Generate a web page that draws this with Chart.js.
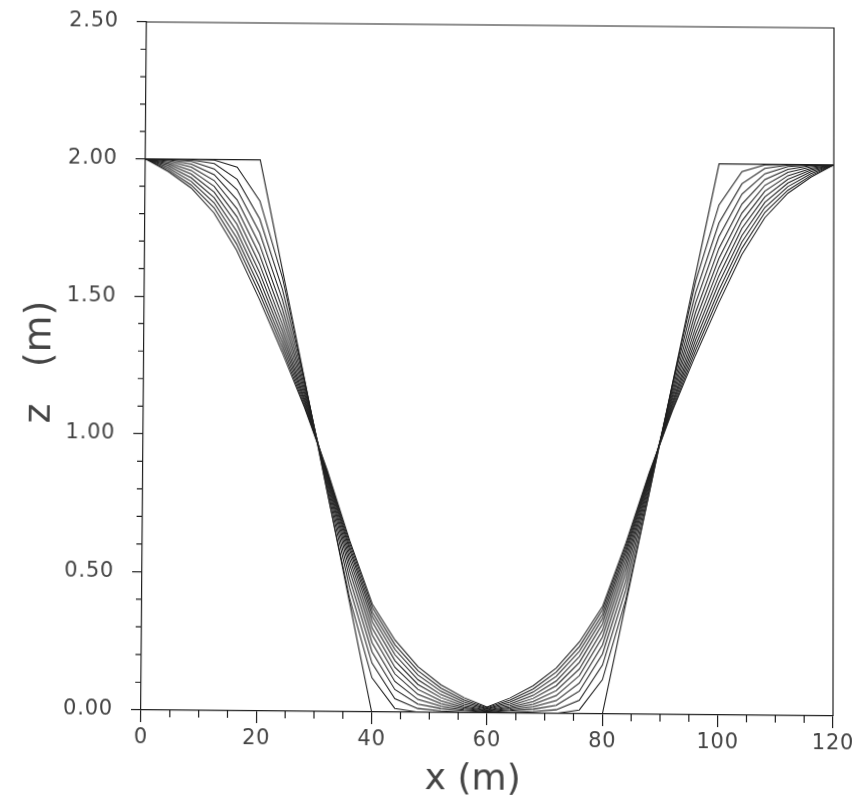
<!DOCTYPE html>
<html>
<head>
<meta charset="utf-8">
<script src="https://cdn.jsdelivr.net/npm/chart.js@4.4.1/dist/chart.umd.min.js"></script>
<style>
  html, body { margin: 0; padding: 0; background: #ffffff; overflow: hidden; }
  #wrap { width: 854px; height: 804px; }
  /* the scanned original is slightly distorted: right side ~6 px lower, top-left ~6 px to the right */
  #c { display: block; transform-origin: 141px 710px;
       transform: matrix3d(1, 0.008727, 0, 0, -0.008285, 1.00683, 0, -0.00000987, 0, 0, 1, 0, 0, 0, 0, 1); }
</style>
</head>
<body>
<div id="wrap"><canvas id="c" width="854" height="804"></canvas></div>
<script>
// ---- data ----
const xTickLabels = ['0', '20', '40', '60', '80', '100', '120'];
const yTickLabels = ['0.00', '0.50', '1.00', '1.50', '2.00', '2.50'];
const xMinorTicks = [5, 10, 15, 25, 30, 35, 45, 50, 55, 65, 70, 75, 85, 90, 95, 105, 110, 115];
const yMinorTicks = [0.1, 0.2, 0.3, 0.4, 0.6, 0.7, 0.8, 0.9, 1.1, 1.2, 1.3, 1.4, 1.6, 1.7, 1.8, 1.9, 2.1, 2.2, 2.3, 2.4];

// initial trapezoidal profile
const initialX = [0, 20, 40, 80, 100, 120];
const initialZ = [2.0, 2.0, 0.0, 0.0, 2.0, 2.0];

// nodes of the smoothed profiles
const nodeX = [0, 4, 8, 12, 16, 20, 24, 28, 32, 36, 40, 44, 48, 52, 56, 60,
               64, 68, 72, 76, 80, 84, 88, 92, 96, 100, 104, 108, 112, 116, 120];

const profile1  = [2.000,2.000,2.000,1.998,1.972,1.850,1.572,1.198,0.800,0.414,0.124,0.014,0.001,0.000,0.000,0.000,0.000,0.000,0.001,0.014,0.124,0.414,0.800,1.198,1.572,1.850,1.972,1.998,2.000,2.000,2.000];
const profile2  = [2.000,2.000,1.998,1.985,1.928,1.784,1.530,1.192,0.815,0.450,0.177,0.049,0.014,0.006,0.003,0.001,0.003,0.006,0.014,0.049,0.177,0.450,0.815,1.192,1.530,1.784,1.928,1.985,1.998,2.000,2.000];
const profile3  = [2.000,1.998,1.992,1.965,1.890,1.734,1.493,1.179,0.826,0.482,0.217,0.082,0.030,0.015,0.008,0.003,0.008,0.015,0.030,0.082,0.217,0.482,0.826,1.179,1.493,1.734,1.890,1.965,1.992,1.998,2.000];
const profile4  = [2.000,1.996,1.982,1.944,1.854,1.691,1.459,1.166,0.836,0.510,0.250,0.111,0.047,0.024,0.012,0.005,0.012,0.024,0.047,0.111,0.250,0.510,0.836,1.166,1.459,1.691,1.854,1.944,1.982,1.996,2.000];
const profile5  = [2.000,1.991,1.971,1.923,1.821,1.654,1.430,1.154,0.844,0.533,0.279,0.138,0.065,0.033,0.016,0.007,0.016,0.033,0.065,0.138,0.279,0.533,0.844,1.154,1.430,1.654,1.821,1.923,1.971,1.991,2.000];
const profile6  = [2.000,1.986,1.959,1.902,1.792,1.621,1.403,1.143,0.851,0.553,0.303,0.162,0.083,0.043,0.021,0.009,0.021,0.043,0.083,0.162,0.303,0.553,0.851,1.143,1.403,1.621,1.792,1.902,1.959,1.986,2.000];
const profile7  = [2.000,1.980,1.946,1.881,1.765,1.591,1.380,1.132,0.858,0.570,0.326,0.186,0.101,0.054,0.026,0.011,0.026,0.054,0.101,0.186,0.326,0.570,0.858,1.132,1.380,1.591,1.765,1.881,1.946,1.980,2.000];
const profile8  = [2.000,1.974,1.932,1.861,1.739,1.564,1.358,1.123,0.862,0.586,0.345,0.207,0.118,0.065,0.033,0.014,0.033,0.065,0.118,0.207,0.345,0.586,0.862,1.123,1.358,1.564,1.739,1.861,1.932,1.974,2.000];
const profile9  = [2.000,1.967,1.919,1.842,1.715,1.538,1.338,1.114,0.867,0.598,0.361,0.226,0.135,0.077,0.040,0.016,0.040,0.077,0.135,0.226,0.361,0.598,0.867,1.114,1.338,1.538,1.715,1.842,1.919,1.967,2.000];
const profile10 = [2.000,1.960,1.906,1.824,1.692,1.515,1.320,1.106,0.871,0.610,0.377,0.243,0.150,0.088,0.047,0.019,0.047,0.088,0.150,0.243,0.377,0.610,0.871,1.106,1.320,1.515,1.692,1.824,1.906,1.960,2.000];
const profile11 = [2.000,1.954,1.895,1.805,1.670,1.493,1.303,1.100,0.875,0.620,0.390,0.260,0.165,0.100,0.055,0.022,0.055,0.100,0.165,0.260,0.390,0.620,0.875,1.100,1.303,1.493,1.670,1.805,1.895,1.954,2.000];

const profiles = [profile1, profile2, profile3, profile4, profile5, profile6,
                  profile7, profile8, profile9, profile10, profile11];

const xTitle = 'x (m)';
const yTitle = 'z   (m)';

// ---- chart ----
const INK = '#202020';
const TEXT = '#444444';
const FONT = 'DejaVu Sans';

const datasets = [{
  data: initialX.map((x, i) => ({ x: x, y: initialZ[i] })),
  borderColor: INK, borderWidth: 1.1, pointRadius: 0, tension: 0, fill: false
}].concat(profiles.map(p => ({
  data: nodeX.map((x, i) => ({ x: x, y: p[i] })),
  borderColor: INK, borderWidth: 1.05, pointRadius: 0, tension: 0, fill: false
})));

const spacingPlugin = {
  id: 'spacing',
  beforeDraw(chart) { chart.ctx.letterSpacing = '0.8px'; }
};

const framePlugin = {
  id: 'frame',
  afterDraw(chart) {
    const ctx = chart.ctx;
    const a = chart.chartArea;
    const xs = chart.scales.x, ys = chart.scales.y;
    ctx.save();
    ctx.letterSpacing = '0px';
    ctx.strokeStyle = INK;
    ctx.lineWidth = 1.2;
    ctx.beginPath();
    // box: top and right edges
    ctx.moveTo(a.left, a.top); ctx.lineTo(a.right, a.top); ctx.lineTo(a.right, a.bottom);
    // minor ticks
    yMinorTicks.forEach(v => { const p = ys.getPixelForValue(v); ctx.moveTo(a.left - 6, p); ctx.lineTo(a.left, p); });
    xMinorTicks.forEach(v => { const p = xs.getPixelForValue(v); ctx.moveTo(p, a.bottom); ctx.lineTo(p, a.bottom + 7); });
    ctx.stroke();
    // axis titles
    ctx.fillStyle = TEXT;
    ctx.textAlign = 'center';
    ctx.textBaseline = 'middle';
    ctx.font = '36px "' + FONT + '"';
    ctx.fillText(xTitle, 473, 777);
    ctx.font = '38px "' + FONT + '"';
    ctx.translate(37, (a.top + a.bottom) / 2 - 2);
    ctx.rotate(-Math.PI / 2);
    ctx.fillText(yTitle, 0, 0);
    ctx.restore();
  }
};

const noEdgePadding = s => { s.paddingTop = 0; s.paddingBottom = 0; s.paddingLeft = 0; s.paddingRight = 0; };

new Chart(document.getElementById('c'), {
  type: 'line',
  data: { datasets: datasets },
  options: {
    responsive: false,
    animation: false,
    events: [],
    layout: { padding: { top: 22, right: 21, left: 0, bottom: 0 } },
    plugins: { legend: { display: false }, title: { display: false }, tooltip: { enabled: false } },
    scales: {
      x: {
        type: 'linear', min: 0, max: 120,
        afterFit: s => { s.height = 94; noEdgePadding(s); },
        ticks: {
          stepSize: 20, maxRotation: 0, padding: 3, color: TEXT,
          font: { family: FONT, size: 21 },
          callback: (v) => xTickLabels[Math.round(v / 20)]
        },
        grid: { drawOnChartArea: false, drawTicks: true, tickLength: 12, color: INK, lineWidth: 1.2 },
        border: { display: true, color: INK, width: 1.2 }
      },
      y: {
        type: 'linear', min: 0, max: 2.5,
        afterFit: s => { s.width = 141; noEdgePadding(s); },
        ticks: {
          stepSize: 0.5, padding: 18, color: TEXT,
          font: { family: FONT, size: 21 },
          callback: (v) => yTickLabels[Math.round(v / 0.5)]
        },
        grid: { drawOnChartArea: false, drawTicks: true, tickLength: 10, color: INK, lineWidth: 1.2 },
        border: { display: true, color: INK, width: 1.2 }
      }
    }
  },
  plugins: [spacingPlugin, framePlugin]
});
</script>
</body>
</html>
